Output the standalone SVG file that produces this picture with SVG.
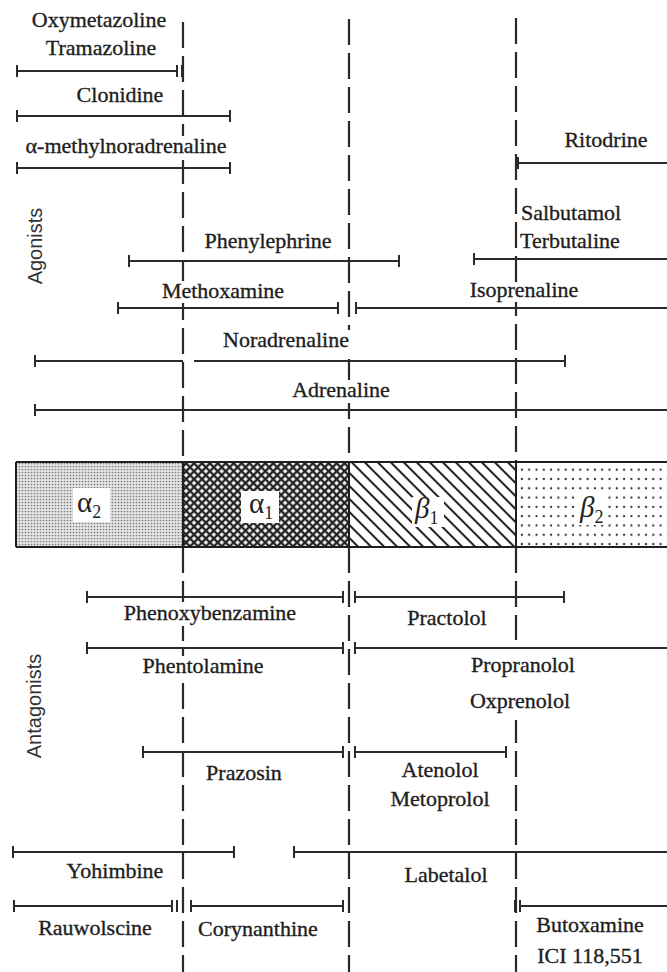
<svg xmlns="http://www.w3.org/2000/svg" width="667" height="972" viewBox="0 0 667 972">
<style>
.t{font-family:"Liberation Serif","Times New Roman",serif;font-size:22px;fill:#1e1e1e;text-anchor:middle;stroke:#1e1e1e;stroke-width:0.35}
.s{text-anchor:start}
.v{font-family:"Liberation Sans",Arial,sans-serif;font-size:20px;fill:#333;text-anchor:middle}
.r{stroke:#2a2a2a;stroke-width:2;fill:none}
.d{stroke:#2a2a2a;stroke-width:2.2;stroke-dasharray:26 8;fill:none}
.b{stroke:#1e1e1e;stroke-width:2;fill:none}
.g{font-family:"Liberation Serif","Times New Roman",serif;font-size:29px;fill:#222}
</style>
<defs>
<pattern id="pa2" width="3" height="3" patternUnits="userSpaceOnUse"><rect width="3" height="3" fill="#e4e4e4"/><circle cx="1.5" cy="1.5" r="0.85" fill="#7d7d7d"/></pattern>
<pattern id="pa1" width="5.6" height="5.6" patternUnits="userSpaceOnUse" patternTransform="rotate(45)"><rect width="5.6" height="5.6" fill="#fff"/><path d="M0 0H5.6M0 5.6H5.6M0 0V5.6M5.6 0V5.6" stroke="#222" stroke-width="2.4"/></pattern>
<pattern id="pb1" width="9.2" height="9.2" patternUnits="userSpaceOnUse" patternTransform="rotate(-45)"><rect width="9.2" height="9.2" fill="#fff"/><path d="M4.6 0V9.2" stroke="#222" stroke-width="2"/></pattern>
<pattern id="pb2" width="7.3" height="9.3" patternUnits="userSpaceOnUse"><rect width="7.3" height="9.3" fill="#fff"/><circle cx="3.6" cy="4.6" r="1.15" fill="#333"/></pattern>
<mask id="gaps" maskUnits="userSpaceOnUse" x="0" y="0" width="667" height="972">
<rect width="667" height="972" fill="#fff"/>
<rect x="175" y="136" width="16" height="24" fill="#000"/>
<rect x="175" y="281" width="16" height="22" fill="#000"/>
<rect x="175" y="602" width="16" height="24" fill="#000"/>
<rect x="175" y="656" width="16" height="23" fill="#000"/>
<rect x="341" y="330" width="16" height="22" fill="#000"/>
<rect x="341" y="380" width="16" height="23" fill="#000"/>
<rect x="508" y="282" width="16" height="20" fill="#000"/>
<rect x="508" y="640" width="16" height="80" fill="#000"/>
</mask>
</defs>
<rect width="667" height="972" fill="#fff"/>

<g id="connectors" mask="url(#gaps)">
<path class="d" d="M183 22V461M349 19V461M516 18V461"/>
<path class="d" d="M183 547V972M349 547V972M516 547V972"/>
</g>

<g id="receptors">
<g id="alpha2"><rect x="16" y="462" width="167" height="85" fill="url(#pa2)"/><rect x="73" y="488" width="37" height="34" fill="#fff"/><text class="g" x="77" y="512">α<tspan font-size="18" dy="6">2</tspan></text></g>
<g id="alpha1"><rect x="183" y="462" width="166" height="85" fill="url(#pa1)"/><rect x="241" y="491" width="38" height="32" fill="#fff"/><text class="g" x="249" y="513">α<tspan font-size="18" dy="6">1</tspan></text></g>
<g id="beta1"><rect x="349" y="462" width="167" height="85" fill="url(#pb1)"/><rect x="412" y="497" width="32" height="30" fill="#fff"/><text class="g" x="415" y="518" font-style="italic">β<tspan font-size="18" dy="6" font-style="normal">1</tspan></text></g>
<g id="beta2"><rect x="516" y="462" width="160" height="85" fill="url(#pb2)"/><rect x="577" y="494" width="31" height="31" fill="#fff"/><text class="g" x="580" y="517" font-style="italic">β<tspan font-size="18" dy="6" font-style="normal">2</tspan></text></g>
<path class="b" d="M16 462H676M16 547H676M16 462V547M183 462V547M349 462V547M516 462V547"/>
</g>

<text class="v" transform="translate(42 246) rotate(-90)">Agonists</text>
<text class="v" transform="translate(41 706) rotate(-90)">Antagonists</text>

<g id="oxymetazoline"><text class="t" x="99" y="27">Oxymetazoline</text><text class="t" x="101" y="55">Tramazoline</text><path class="r" d="M17 71H177M17 65v12M177 65v12M182 65v12"/></g>
<g id="clonidine"><text class="t" x="120" y="102">Clonidine</text><path class="r" d="M17 116H230M17 110v12M230 110v12"/></g>
<g id="methylnoradrenaline"><text class="t" x="126" y="153">α-methylnoradrenaline</text><path class="r" d="M17 168H230M17 162v12M230 162v12"/></g>
<g id="ritodrine"><text class="t" x="606" y="147">Ritodrine</text><path class="r" d="M518 163H667M518 157v12"/></g>
<g id="salbutamol"><text class="t s" x="521" y="220">Salbutamol</text><text class="t s" x="520" y="248">Terbutaline</text><path class="r" d="M474 259H667M474 253v12"/></g>
<g id="phenylephrine"><text class="t" x="268" y="248">Phenylephrine</text><path class="r" d="M129 261H399M129 255v12M399 255v12"/></g>
<g id="methoxamine"><text class="t" x="223" y="298">Methoxamine</text><path class="r" d="M118 308H338M118 302v12M338 302v12"/></g>
<g id="isoprenaline"><text class="t" x="524" y="297">Isoprenaline</text><path class="r" d="M356 308H667M356 302v12"/></g>
<g id="noradrenaline"><text class="t" x="286" y="347">Noradrenaline</text><path class="r" d="M35 361H183M194 361H565M35 355v12M565 355v12"/></g>
<g id="adrenaline"><text class="t" x="341" y="397">Adrenaline</text><path class="r" d="M35 410H667M35 404v12"/></g>

<g id="phenoxybenzamine"><text class="t" x="210" y="620">Phenoxybenzamine</text><path class="r" d="M87 597H343M87 591v12M343 591v12"/></g>
<g id="practolol"><text class="t" x="447" y="625">Practolol</text><path class="r" d="M355 597H564M355 591v12M564 591v12"/></g>
<g id="phentolamine"><text class="t" x="203" y="673">Phentolamine</text><path class="r" d="M87 648H343M87 642v12M343 642v12"/></g>
<g id="propranolol"><text class="t" x="523" y="672">Propranolol</text><text class="t" x="520" y="708">Oxprenolol</text><path class="r" d="M355 648H667M355 642v12"/></g>
<g id="prazosin"><text class="t" x="244" y="780">Prazosin</text><path class="r" d="M143 752H343M143 746v12M343 746v12"/></g>
<g id="atenolol"><text class="t" x="440" y="777">Atenolol</text><text class="t" x="440" y="806">Metoprolol</text><path class="r" d="M355 752H506M355 746v12M506 746v12"/></g>
<g id="yohimbine"><text class="t" x="115" y="878">Yohimbine</text><path class="r" d="M13 852H234M13 846v12M234 846v12"/></g>
<g id="labetalol"><text class="t" x="446" y="882">Labetalol</text><path class="r" d="M294 852H667M294 846v12"/></g>
<g id="rauwolscine"><text class="t" x="95" y="935">Rauwolscine</text><path class="r" d="M14 906H172M14 900v12M172 900v12M177 900v12"/></g>
<g id="corynanthine"><text class="t" x="258" y="936">Corynanthine</text><path class="r" d="M191 906H343M191 900v12M343 900v12"/></g>
<g id="butoxamine"><text class="t" x="590" y="932">Butoxamine</text><text class="t" x="590" y="963">ICI 118,551</text><path class="r" d="M520 906H667M515 900v12M520 900v12"/></g>
</svg>
